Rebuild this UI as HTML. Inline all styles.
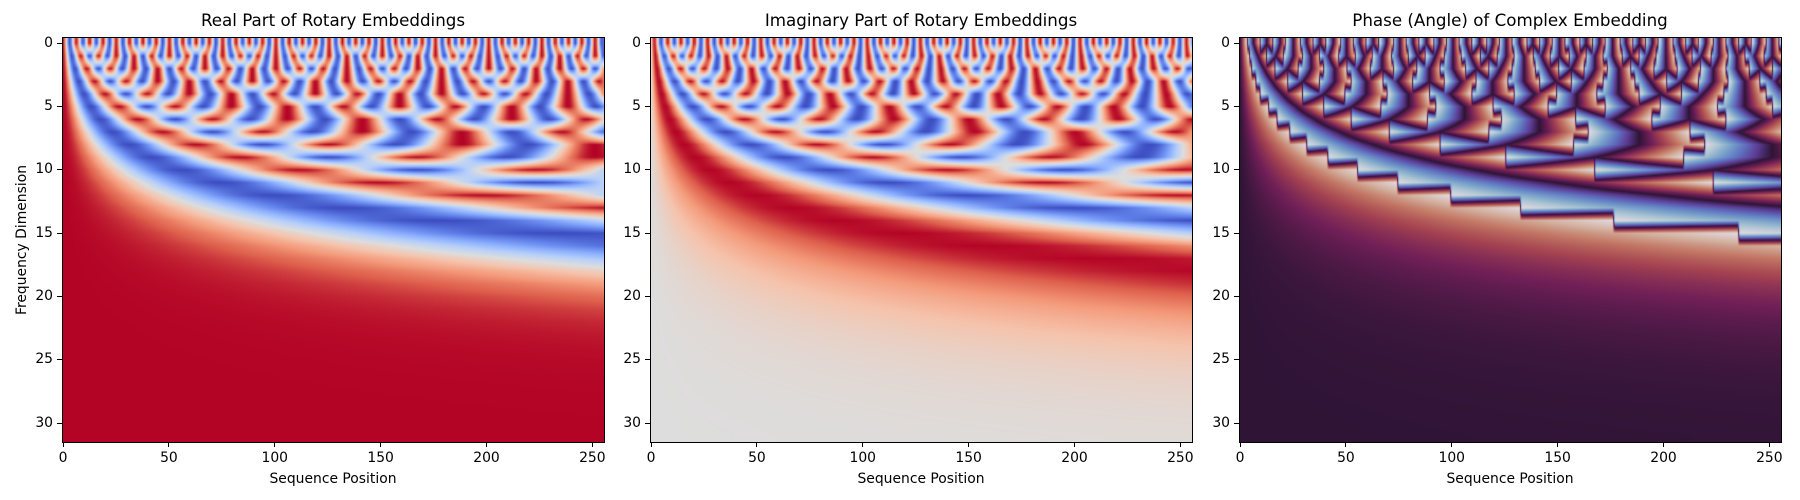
<!DOCTYPE html>
<html><head><meta charset="utf-8">
<style>
html,body{margin:0;padding:0;background:#fff;}
#fig{position:relative;width:1800px;height:500px;font-family:"DejaVu Sans","Liberation Sans",sans-serif;color:#000;overflow:hidden;}
canvas{position:absolute;}
.frame{position:absolute;border:1px solid #000;box-sizing:border-box;}
.t{position:absolute;white-space:nowrap;}
.title{font-size:16.7px;transform:translateX(-50%);}
.tick{font-size:13.9px;}
.xl{font-size:13.9px;transform:translateX(-50%);}
.mk{position:absolute;background:#000;}
</style></head>
<body>
<div id="fig"></div>
<script>
// ---- data ----
const positions = [];
for (let p = 0; p < 256; p++) positions.push(p);
const dims = [];
for (let d = 0; d < 32; d++) dims.push(d);
const thetas = [1, 0.749894, 0.562341, 0.421697, 0.316228, 0.237137, 0.177828, 0.133352,
  0.1, 0.0749894, 0.0562341, 0.0421697, 0.0316228, 0.0237137, 0.0177828, 0.0133352,
  0.01, 0.00749894, 0.00562341, 0.00421697, 0.00316228, 0.00237137, 0.00177828, 0.00133352,
  0.001, 0.000749894, 0.000562341, 0.000421697, 0.000316228, 0.000237137, 0.000177828, 0.000133352];
const xTicks = [0, 50, 100, 150, 200, 250];
const yTicks = [0, 5, 10, 15, 20, 25, 30];
const titles = ["Real Part of Rotary Embeddings", "Imaginary Part of Rotary Embeddings", "Phase (Angle) of Complex Embedding"];

// ---- colormaps ----
const coolwarm = [[59,76,192],[98,130,234],[141,176,254],[184,208,249],[221,221,221],[245,196,173],[244,154,123],[222,96,77],[180,4,38]];
const twilight = [[226,217,226],[173,198,211],[120,161,202],[95,114,193],[92,60,148],[47,20,54],[112,31,87],[165,67,81],[195,119,100],[211,176,158],[226,217,226]];
function cmap(tab, t) {
  t = Math.max(0, Math.min(1, t));
  const f = t * (tab.length - 1), i = Math.min(tab.length - 2, Math.floor(f)), r = f - i;
  return tab[i].map((v, k) => v + (tab[i + 1][k] - v) * r);
}

const fig = document.getElementById('fig');
const axLeft = [62, 650, 1239], axW = 542, axTop = 37, axH = 405;
function xScale(ai, v) { return axLeft[ai] + (v + 0.5) / positions.length * axW; }
function yScale(v) { return axTop + (v + 0.5) / dims.length * axH; }

function add(cls, txt, x, y, name) {
  const e = document.createElement('div');
  e.className = 't ' + cls;
  e.textContent = txt;
  e.style.left = x + 'px'; e.style.top = y + 'px';
  
  
  fig.appendChild(e);
  return e;
}

function valueGrid(a) {
  const g = [];
  for (let d = 0; d < dims.length; d++) {
    const row = [];
    for (let p = 0; p < positions.length; p++) {
      const ang = positions[p] * thetas[dims[d]];
      if (a === 0) row.push(Math.cos(ang));
      else if (a === 1) row.push(Math.sin(ang));
      else row.push(Math.atan2(Math.sin(ang), Math.cos(ang)));
    }
    g.push(row);
  }
  return g;
}

for (let a = 0; a < 3; a++) {
  const grid = valueGrid(a);
  const nP = positions.length, nD = dims.length;
  const c = document.createElement('canvas');
  c.width = axW; c.height = axH;
  c.style.left = axLeft[a] + 'px'; c.style.top = axTop + 'px';
  c.style.width = axW + 'px'; c.style.height = axH + 'px';
  
  
  const ctx = c.getContext('2d');
  const img = ctx.createImageData(axW, axH);
  for (let y = 0; y < axH; y++) {
    let fd = (y + 0.5) / axH * nD - 0.5;
    fd = Math.max(0, Math.min(nD - 1, fd));
    const d0 = Math.min(nD - 2, Math.floor(fd)), rd = fd - d0;
    for (let x = 0; x < axW; x++) {
      let fp = (x + 0.5) / axW * nP - 0.5;
      fp = Math.max(0, Math.min(nP - 1, fp));
      const p0 = Math.min(nP - 2, Math.floor(fp)), rp = fp - p0;
      const v = (grid[d0][p0] * (1 - rp) + grid[d0][p0 + 1] * rp) * (1 - rd) +
                (grid[d0 + 1][p0] * (1 - rp) + grid[d0 + 1][p0 + 1] * rp) * rd;
      let col;
      if (a < 2) col = cmap(coolwarm, (v + 1) / 2);
      else col = cmap(twilight, (v + Math.PI) / (2 * Math.PI));
      const o = (y * axW + x) * 4;
      img.data[o] = col[0]; img.data[o + 1] = col[1]; img.data[o + 2] = col[2]; img.data[o + 3] = 255;
    }
  }
  ctx.putImageData(img, 0, 0);
  fig.appendChild(c);

  const fr = document.createElement('div');
  fr.className = 'frame';
  fr.style.left = axLeft[a] + 'px'; fr.style.top = axTop + 'px';
  fr.style.width = (axW + 1) + 'px'; fr.style.height = (axH + 1) + 'px';
  
  
  fig.appendChild(fr);

  add('title', titles[a], axLeft[a] + axW / 2, 10, 'chart-title');

  xTicks.forEach(v => {
    const x = xScale(a, v) - 0.5;
    const m = document.createElement('div');
    m.className = 'mk';
    m.style.left = x + 'px'; m.style.top = (axTop + axH) + 'px';
    m.style.width = '1px'; m.style.height = '5px';
    
    
    fig.appendChild(m);
    add('xl', String(v), x + 0.5, axTop + axH + 8, 'x-tick-label');
  });
  yTicks.forEach(v => {
    const y = yScale(v) - 0.5;
    const m = document.createElement('div');
    m.className = 'mk';
    m.style.left = (axLeft[a] - 5) + 'px'; m.style.top = y + 'px';
    m.style.width = '5px'; m.style.height = '1px';
    
    
    fig.appendChild(m);
    const e = add('tick', String(v), 0, y - 8, 'y-tick-label');
    e.style.left = 'auto';
    e.style.right = (1800 - axLeft[a] + 9) + 'px';
  });
  add('xl', 'Sequence Position', axLeft[a] + axW / 2, 471, 'x-axis-title');
}
const yl = add('tick', 'Frequency Dimension', 22, 240, 'y-axis-title');
yl.style.transform = 'translate(-50%,-50%) rotate(-90deg)';
</script>
</body></html>
